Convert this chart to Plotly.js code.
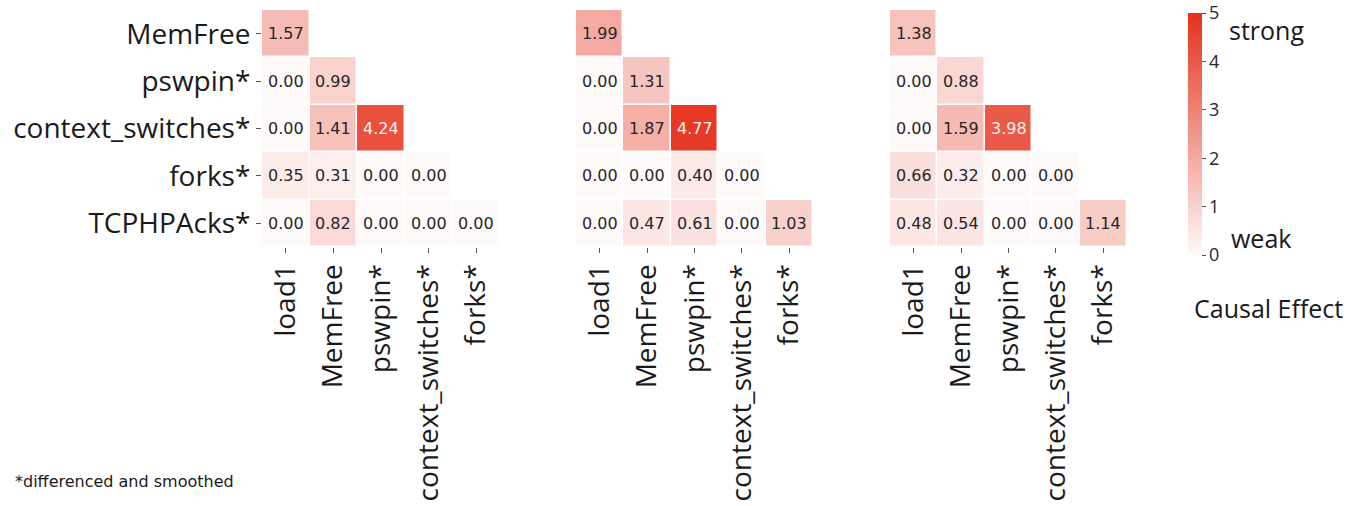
<!DOCTYPE html>
<html>
<head>
<meta charset="utf-8">
<script src="https://cdn.plot.ly/plotly-3.0.1.min.js"></script>
<style>
  html, body { margin: 0; padding: 0; background: #ffffff; }
  #chart { width: 1369px; height: 506px; }
</style>
</head>
<body>
<div id="chart"></div>
<script>
// Row (effect) and column (cause) variables of the causal-effect matrices
const rowLabels = ["MemFree", "pswpin*", "context_switches*", "forks*", "TCPHPAcks*"];
const colLabels = ["load1", "MemFree", "pswpin*", "context_switches*", "forks*"];

// Lower-triangular effect strengths, one list per row
const effectsA = [
  [1.57],
  [0.00, 0.99],
  [0.00, 1.41, 4.24],
  [0.35, 0.31, 0.00, 0.00],
  [0.00, 0.82, 0.00, 0.00, 0.00]
];
const effectsB = [
  [1.99],
  [0.00, 1.31],
  [0.00, 1.87, 4.77],
  [0.00, 0.00, 0.40, 0.00],
  [0.00, 0.47, 0.61, 0.00, 1.03]
];
const effectsC = [
  [1.38],
  [0.00, 0.88],
  [0.00, 1.59, 3.98],
  [0.66, 0.32, 0.00, 0.00],
  [0.48, 0.54, 0.00, 0.00, 1.14]
];

const colorbarTicks = [0, 1, 2, 3, 4, 5];
const footnote = "*differenced and smoothed";

const W = 1369, H = 506;
const px = v => v / W;
const py = v => 1 - v / H;

const scale = [[0, "#fefafa"], [1, "#e5311c"]];
const zMax = 5;
const panels = [effectsA, effectsB, effectsC];
const xDomains = [[262, 500], [576, 813], [890, 1127]];
const labelFont = { family: "Open Sans, sans-serif", size: 28, color: "#1a1a1a" };

const traces = [];
const annotations = [];
const layout = {
  width: W, height: H,
  margin: { l: 0, r: 0, t: 0, b: 0 },
  paper_bgcolor: "#ffffff",
  plot_bgcolor: "rgba(0,0,0,0)",
  showlegend: false,
  font: { family: "Open Sans, sans-serif", color: "#262626" }
};

panels.forEach((rows, p) => {
  const sfx = p === 0 ? "" : String(p + 1);
  // pad each row to full width; cells above the diagonal stay empty
  const z = rows.map(r => colLabels.map((_, j) => (j < r.length ? r[j] : null)));
  traces.push({
    type: "heatmap",
    x: colLabels, y: rowLabels, z: z,
    xaxis: "x" + sfx, yaxis: "y" + sfx,
    zmin: 0, zmax: zMax,
    colorscale: scale,
    xgap: 1.5, ygap: 1.5,
    hoverongaps: false,
    showscale: p === 0,
    colorbar: {
      x: px(1188), xanchor: "left", xpad: 0,
      y: py(13), yanchor: "top", ypad: 0,
      len: 242, lenmode: "pixels",
      thickness: 14, thicknessmode: "pixels",
      outlinewidth: 0,
      tickmode: "array", tickvals: colorbarTicks,
      ticklabeloverflow: "allow",
      ticks: "outside", ticklen: 4, tickcolor: "#555",
      tickfont: { family: "Open Sans, sans-serif", size: 18, color: "#262626" }
    }
  });
  layout["xaxis" + sfx] = {
    domain: [px(xDomains[p][0]), px(xDomains[p][1])],
    anchor: "y" + sfx,
    type: "category",
    categoryorder: "array", categoryarray: colLabels,
    tickangle: -90,
    ticks: "outside", ticklen: 5, tickcolor: "#555", tickwidth: 1,
    tickfont: labelFont,
    showgrid: false, zeroline: false, showline: false, fixedrange: true
  };
  layout["yaxis" + sfx] = {
    domain: [py(247), py(10)],
    anchor: "x" + sfx,
    type: "category",
    categoryorder: "array", categoryarray: rowLabels,
    autorange: "reversed",
    ticks: p === 0 ? "outside" : "",
    ticklen: 5, tickcolor: "#555", tickwidth: 1,
    showticklabels: p === 0,
    tickfont: labelFont,
    showgrid: false, zeroline: false, showline: false, fixedrange: true
  };
  // value labels inside the cells
  rows.forEach((r, i) => r.forEach((v, j) => {
    annotations.push({
      xref: "x" + sfx, yref: "y" + sfx,
      x: colLabels[j], y: rowLabels[i],
      text: v.toFixed(2), showarrow: false,
      font: { family: "DejaVu Sans, sans-serif", size: 16,
              color: v > 3 ? "#fdf0ee" : "#262626" }
    });
  }));
});

// colorbar captions and footnote
const captionFont = { family: "Open Sans, sans-serif", size: 25, color: "#1a1a1a" };
annotations.push(
  { xref: "paper", yref: "paper", x: px(1227), y: py(30), xanchor: "left", yanchor: "middle",
    text: "strong", showarrow: false, font: captionFont },
  { xref: "paper", yref: "paper", x: px(1229), y: py(238), xanchor: "left", yanchor: "middle",
    text: "weak", showarrow: false, font: captionFont },
  { xref: "paper", yref: "paper", x: px(1192), y: py(308), xanchor: "left", yanchor: "middle",
    text: "Causal Effect", showarrow: false, font: captionFont },
  { xref: "paper", yref: "paper", x: px(13), y: py(481), xanchor: "left", yanchor: "middle",
    text: footnote, showarrow: false, font: { family: "DejaVu Sans, sans-serif", size: 16, color: "#1a1a1a" } }
);
layout.annotations = annotations;

Plotly.newPlot("chart", traces, layout, { displayModeBar: false, staticPlot: true });
</script>
</body>
</html>
